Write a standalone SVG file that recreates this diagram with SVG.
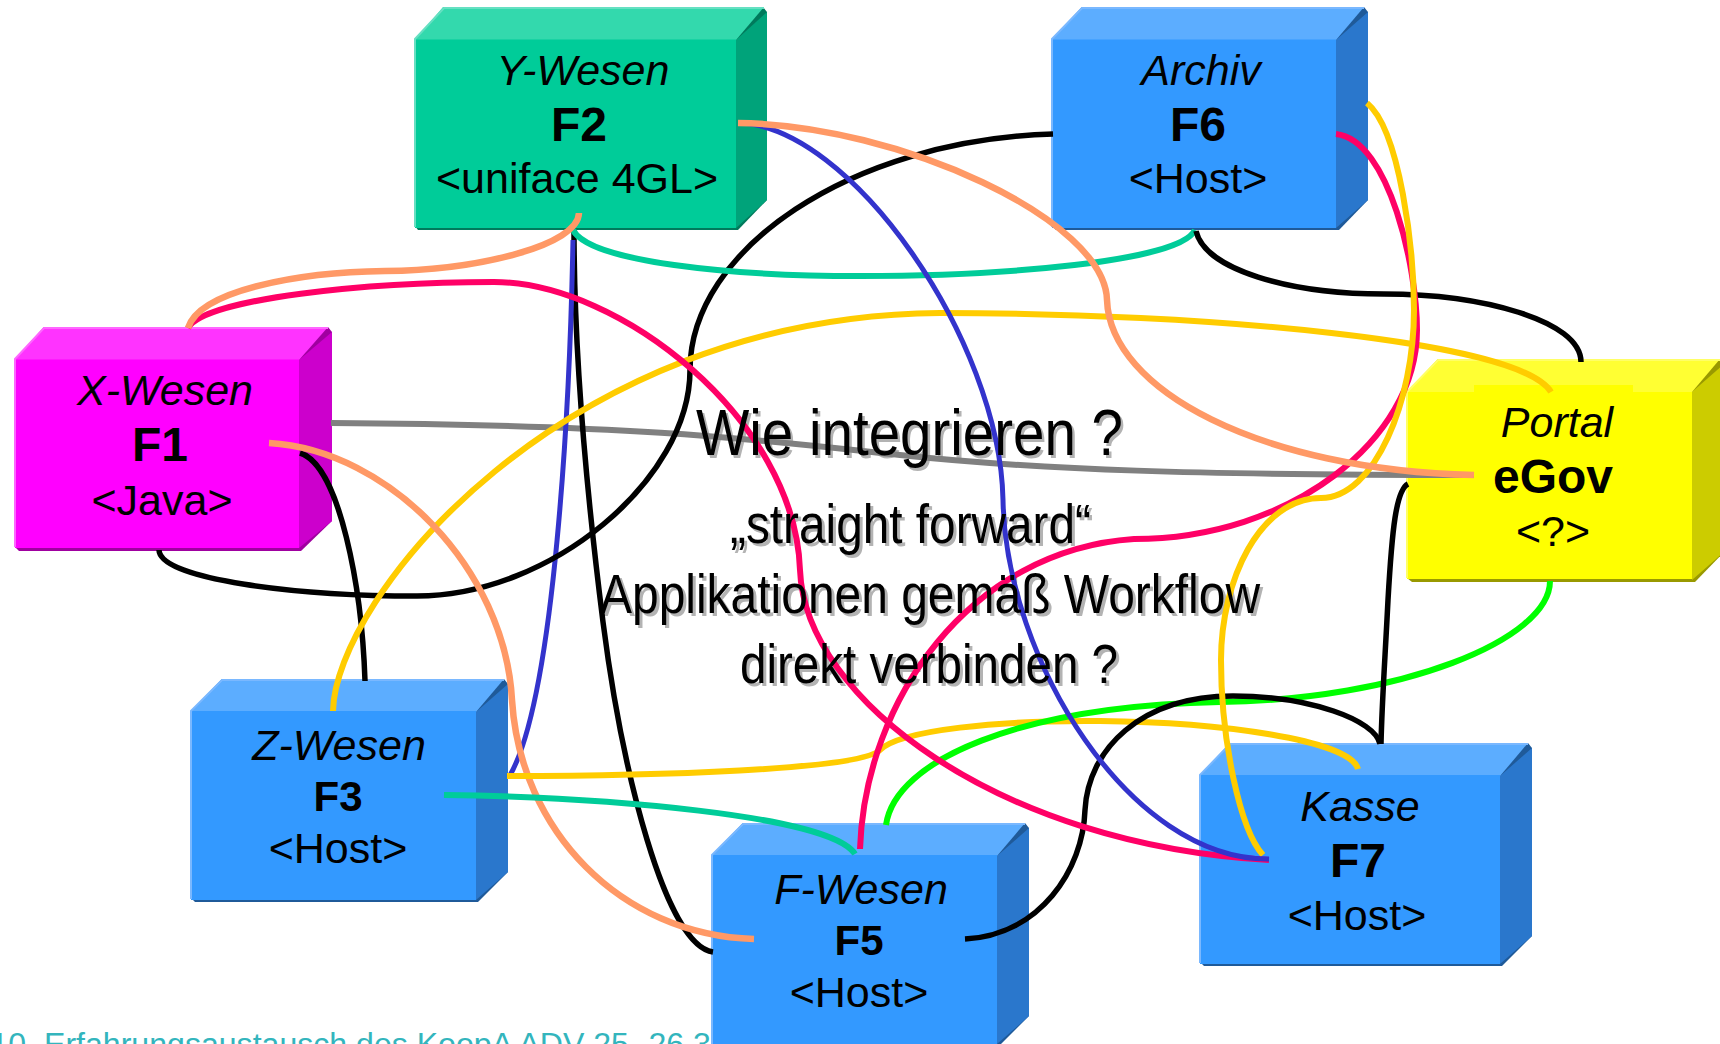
<svg xmlns="http://www.w3.org/2000/svg" width="1720" height="1044" viewBox="0 0 1720 1044">
<style>
text{font-family:"Liberation Sans",Arial,sans-serif;fill:#000}
.n{font-size:43px;text-anchor:middle}
.i{font-style:italic}
.b{font-size:48px;font-weight:bold;text-anchor:middle}
.s{font-size:42px}
.c{fill:none;stroke-linecap:butt}
.k{stroke:#000;stroke-width:5.5}
.o{stroke:#f96;stroke-width:6.5}
.p{stroke:#f06;stroke-width:6}
.y{stroke:#fc0;stroke-width:6}
.u{stroke:#33c;stroke-width:5}
.t{stroke:#0c9;stroke-width:6}
.g{stroke:#808080;stroke-width:6}
.l{stroke:#0f0;stroke-width:6}
.h{font-size:56px;text-anchor:start}
.sh{fill:#b3b3b3}
.e{fill:none;stroke-width:2}
.blue .f{fill:#39f}.blue .a{fill:#5cadff}.blue .r{fill:#2a77cc}.blue .d{fill:#1f5a99}.blue .e{stroke:#7ab8ff}
</style>
<text x="-9.500" y="1055" style="font-size:32.100px;fill:#33b5bd">10. Erfahrungsaustausch des KoopA ADV 25.-26.3</text>

<g id="F2">
<path d="M418 230H738L767 200V12L763 7H447L415 39V226Z" fill="#007a5c"/>
<path d="M736 40L767 12V200L736 228Z" fill="#00a37a"/>
<path d="M415 40L443 7H764L736 40Z" fill="#33d9ad"/>
<rect x="415" y="39.500" width="321" height="188.500" fill="#0c9"/>
<path class="e" stroke="#66e0c2" d="M415 227V39L444 8H764"/>
<text class="n i" x="583" y="85">Y-Wesen</text><text class="b" x="579" y="141">F2</text><text class="n" x="577" y="193">&lt;uniface 4GL&gt;</text>
</g>
<g id="F6" class="blue">
<path d="M1056 230H1339L1368 200V12L1364 7H1082L1052 39V226Z" class="d"/>
<path d="M1336 40L1368 12V200L1336 228Z" class="r"/>
<path d="M1052 40L1082 7H1364L1336 40Z" class="a"/>
<rect x="1052" y="39.500" width="284" height="188.500" class="f"/>
<path class="e" d="M1052 227V39L1082 8H1364"/>
<text class="n i" x="1201" y="85">Archiv</text><text class="b" x="1198" y="141">F6</text><text class="n" x="1198" y="193">&lt;Host&gt;</text>
</g>
<g id="F1">
<path d="M19 551H301L332 521V332L328 327H44L15 359V547Z" fill="#a000a0"/>
<path d="M299 360L332 332V521L299 548Z" fill="#c0c"/>
<path d="M15 360L44 327H328L299 360Z" fill="#f3f"/>
<rect x="15" y="359.500" width="284" height="188.500" fill="#f0f"/>
<path class="e" stroke="#f6f" d="M15 547V359L44 328H328"/>
<text class="n i" x="165" y="405">X-Wesen</text><text class="b" x="160" y="461">F1</text><text class="n" x="162" y="515">&lt;Java&gt;</text>
</g>
<g id="Portal">
<path d="M1412 582H1695L1724 552V364L1720 359H1438L1407 392V578Z" fill="#990"/>
<path d="M1692 392L1724 364V552L1692 580Z" fill="#cc0"/>
<path d="M1407 392L1438 359H1720L1692 392Z" fill="#ff3"/>
<rect x="1407" y="392" width="285" height="187" fill="#ff0"/>
<rect x="1474" y="385" width="159" height="8" fill="#ff0"/>
<path class="e" stroke="#ff6" d="M1407 578V392L1438 360H1720"/>
<text class="n i" x="1557" y="437">Portal</text><text class="b" x="1553" y="493">eGov</text><text class="n" x="1553" y="546">&lt;?&gt;</text>
</g>
<g id="F3" class="blue">
<path d="M195 902H478L508 872V684L504 679H222L191 711V898Z" class="d"/>
<path d="M476 712L508 684V872L476 900Z" class="r"/>
<path d="M191 712L222 679H504L476 712Z" class="a"/>
<rect x="191" y="711" width="285" height="189" class="f"/>
<path class="e" d="M191 899V711L222 680H504"/>
<text class="n i" x="339" y="760">Z-Wesen</text><text class="b s" x="338" y="811">F3</text><text class="n" x="338" y="863">&lt;Host&gt;</text>
</g>
<g id="F7" class="blue">
<path d="M1204 966H1502L1532 936V748L1528 743H1230L1200 775V962Z" class="d"/>
<path d="M1500 776L1532 748V936L1500 964Z" class="r"/>
<path d="M1200 776L1230 743H1528L1500 776Z" class="a"/>
<rect x="1200" y="775" width="300" height="189" class="f"/>
<path class="e" d="M1200 963V775L1230 744H1528"/>
<text class="n i" x="1360" y="821">Kasse</text><text class="b" x="1358" y="877">F7</text><text class="n" x="1357" y="930">&lt;Host&gt;</text>
</g>
<g id="F5" class="blue">
<path d="M716 1046H999L1029 1016V828L1025 823H743L712 855V1042Z" class="d"/>
<path d="M997 856L1029 828V1016L997 1044Z" class="r"/>
<path d="M712 856L743 823H1025L997 856Z" class="a"/>
<rect x="712" y="855" width="285" height="189" class="f"/>
<path class="e" d="M712 1044V855L743 824H1025"/>
<text class="n i" x="861" y="904">F-Wesen</text><text class="b s" x="859" y="955">F5</text><text class="n" x="859" y="1007">&lt;Host&gt;</text>
</g>

<g id="question-shadow">
<text class="h sh" x="698.500" y="458" style="font-size:65px" textLength="427" lengthAdjust="spacingAndGlyphs">Wie integrieren ?</text>
<text class="h sh" x="733" y="546" textLength="361" lengthAdjust="spacingAndGlyphs">„straight forward“</text>
<text class="h sh" x="603" y="616" textLength="660" lengthAdjust="spacingAndGlyphs">Applikationen gemäß Workflow</text>
<text class="h sh" x="743" y="686" textLength="378" lengthAdjust="spacingAndGlyphs">direkt verbinden ?</text>
</g>

<g id="connectors" class="c">
<path class="c g" d="M331 423C650 425 760 440 900 455C1040 470 1200 475 1474 475"/>
<path class="c k" d="M574 230C574 350 585 480 603 622C622 770 665 945 713 952"/>
<path class="c u" d="M573 240C570 400 555 700 509 777"/>
<path class="c k" d="M1053 134C850 140 690 250 690 370C690 480 550 596 417 596C300 596 160 580 159 550"/>
<path class="c t" d="M573 230C590 262 730 276 860 276C1000 276 1180 262 1195 230"/>
<path class="c k" d="M1196 231C1205 270 1290 294 1384 294C1480 294 1581 320 1581 362"/>
<path class="c k" d="M300 453C340 465 362 590 365 681"/>
<path class="c y" d="M333 711C335 600 560 316 940 313C1200 313 1520 340 1551 392"/>
<path class="c o" d="M269 443C390 450 505 570 512 700C520 830 620 935 754 939"/>
<path class="c t" d="M444 795C600 797 830 815 855 854"/>
<path class="c y" d="M507 776C650 776 860 770 880 750C900 730 1000 720 1100 721C1220 722 1350 740 1358 769"/>
<path class="c l" d="M886 825C895 760 1020 706 1220 702C1400 700 1550 640 1550 581"/>
<path class="c k" d="M1408 484C1396 490 1392 530 1388 600C1385 660 1382 700 1381 744"/>
<path class="c k" d="M965 939C1040 935 1083 870 1085 810C1088 750 1140 696 1233 696C1310 696 1375 720 1380 744"/>
<path class="c p" d="M188 328C205 298 370 282 494 282C620 282 795 420 800 570C805 700 1000 845 1269 860"/>
<path class="c o" d="M579 213C578 245 480 270 385 271C300 272 200 290 188 328"/>
<path class="c p" d="M1336 134C1390 140 1417 270 1417 330C1417 440 1290 539 1134 539C970 550 865 700 860 849"/>
<path class="c y" d="M1367 103C1400 130 1414 250 1414 310C1414 400 1375 498 1321 498C1260 498 1221 580 1221 660C1221 740 1240 830 1263 855"/>
<path class="c u" d="M738 123C850 125 1000 340 1003 500C1006 660 1130 860 1269 859"/>
<path class="c o" d="M738 123C900 125 1105 220 1107 300C1110 390 1260 470 1474 475"/>
</g>

<g id="question">
<text class="h" x="696" y="455" style="font-size:65px" textLength="427" lengthAdjust="spacingAndGlyphs">Wie integrieren ?</text>
<text class="h" x="730" y="543" textLength="361" lengthAdjust="spacingAndGlyphs">„straight forward“</text>
<text class="h" x="600" y="613" textLength="660" lengthAdjust="spacingAndGlyphs">Applikationen gemäß Workflow</text>
<text class="h" x="740" y="683" textLength="378" lengthAdjust="spacingAndGlyphs">direkt verbinden ?</text>
</g>
</svg>
